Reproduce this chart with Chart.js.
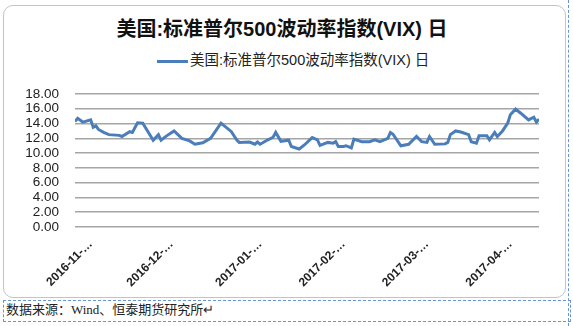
<!DOCTYPE html>
<html lang="zh">
<head>
<meta charset="UTF-8">
<title>VIX</title>
<script src="https://cdn.jsdelivr.net/npm/chart.js"></script>
<style>
body {
  margin: 0;
  width: 573px;
  height: 326px;
  background: #fff;
  position: relative;
  overflow: hidden;
  font-family: "Liberation Sans", "Noto Sans CJK SC", sans-serif;
}
.box {
  position: absolute;
  left: 3px;
  top: 5px;
  width: 561px;
  height: 291px;
  border: 1px solid #c4c4c4;
  border-radius: 10px;
  background: #fff;
}
.title {
  position: absolute;
  left: 0;
  top: 17px;
  width: 564px;
  line-height: 24px;
  text-align: center;
  font-weight: bold;
  font-size: 20px;
  color: #111;
}
.legend {
  position: absolute;
  left: 157px;
  top: 51px;
  line-height: 18px;
  font-size: 14.5px;
  color: #222;
  white-space: nowrap;
}
.legend span.swatch {
  display: inline-block;
  width: 31px;
  height: 3px;
  background: #4a7ebb;
  vertical-align: middle;
  margin-right: 2px;
}
#wrap {
  position: absolute;
  left: 0;
  top: 0;
  width: 573px;
  height: 300px;
}
.source {
  position: absolute;
  left: 3px;
  top: 300px;
  width: 564px;
  height: 20px;
  border: 1px dashed #6a94d4;
  font-family: "Liberation Serif", "Noto Sans CJK SC", serif;
  font-size: 13px;
  line-height: 18px;
  padding-left: 2px;
  color: #222;
}
.rightline {
  position: absolute;
  left: 568px;
  top: 0;
  height: 326px;
  border-left: 1px dashed #6a94d4;
}
</style>
</head>
<body>
<div class="box"></div>
<div class="rightline"></div>
<div class="title">美国:标准普尔500波动率指数(VIX) 日</div>
<div class="legend"><span class="swatch"></span>美国:标准普尔500波动率指数(VIX) 日</div>
<div id="wrap"><canvas id="c" width="573" height="300"></canvas></div>
<div class="source">数据来源：Wind、恒泰期货研究所↵</div>
<script>
const dates = [
  '2016-11-01', '2016-11-02', '2016-11-04', '2016-11-07', '2016-11-08', '2016-11-09', '2016-11-10',
  '2016-11-12', '2016-11-14', '2016-11-18', '2016-11-19', '2016-11-22', '2016-11-23', '2016-11-25',
  '2016-11-27', '2016-11-29', '2016-12-01', '2016-12-03', '2016-12-04', '2016-12-06', '2016-12-09',
  '2016-12-12', '2016-12-15', '2016-12-17', '2016-12-20', '2016-12-23', '2016-12-27', '2016-12-31',
  '2017-01-02', '2017-01-03', '2017-01-07', '2017-01-09', '2017-01-10', '2017-01-11', '2017-01-14',
  '2017-01-16', '2017-01-17', '2017-01-19', '2017-01-22', '2017-01-23', '2017-01-26', '2017-01-28',
  '2017-01-31', '2017-02-02', '2017-02-03', '2017-02-06', '2017-02-08', '2017-02-09', '2017-02-10',
  '2017-02-12', '2017-02-13', '2017-02-15', '2017-02-16', '2017-02-19', '2017-02-22', '2017-02-24',
  '2017-02-26', '2017-03-01', '2017-03-02', '2017-03-03', '2017-03-06', '2017-03-09', '2017-03-12',
  '2017-03-14', '2017-03-16', '2017-03-17', '2017-03-19', '2017-03-23', '2017-03-24', '2017-03-25',
  '2017-03-27', '2017-03-29', '2017-04-01', '2017-04-02', '2017-04-04', '2017-04-05', '2017-04-08',
  '2017-04-09', '2017-04-11', '2017-04-12', '2017-04-14', '2017-04-16', '2017-04-17', '2017-04-19',
  '2017-04-21', '2017-04-24', '2017-04-26', '2017-04-27', '2017-04-28'
];
const vix = [
  14.27, 14.7, 14.2, 14.5, 13.5, 13.7, 13.2,
  12.8, 12.5, 12.4, 12.25, 12.9, 12.8, 14.1,
  14.05, 12.9, 11.75, 12.5, 11.75, 12.3, 13.0,
  12.0, 11.65, 11.2, 11.4, 12.0, 14.05, 12.9,
  11.8, 11.45, 11.5, 11.2, 11.5, 11.2, 11.8,
  12.15, 12.8, 11.6, 11.75, 10.9, 10.55, 11.1,
  12.1, 11.8, 11.05, 11.45, 11.35, 11.55, 10.9,
  10.9, 11.0, 10.7, 11.9, 11.55, 11.55, 11.8,
  11.55, 12.0, 12.8, 12.55, 11.0, 11.2, 12.25,
  11.55, 11.45, 12.25, 11.2, 11.25, 11.45, 12.5,
  13.0, 12.85, 12.5, 11.55, 11.35, 12.35, 12.35,
  11.8, 12.8, 12.25, 13.0, 14.05, 15.2, 15.95,
  15.4, 14.5, 14.85, 14.2, 14.6
];
// dates that carry an axis label (shown truncated, as in the original)
const tickDates = ['2016-11-07', '2016-12-08', '2017-01-11', '2017-02-12', '2017-03-16', '2017-04-17'];
const yTicks = [0, 2, 4, 6, 8, 10, 12, 14, 16, 18];

const start = Date.UTC(2016, 10, 1);
function dayOf(s) {
  const p = s.split('-');
  return Math.round((Date.UTC(+p[0], +p[1] - 1, +p[2]) - start) / 86400000);
}
const points = dates.map((d, i) => ({ x: dayOf(d), y: vix[i] }));
const tickDays = tickDates.map(dayOf);

new Chart(document.getElementById('c').getContext('2d'), {
  type: 'line',
  data: {
    datasets: [{
      label: '美国:标准普尔500波动率指数(VIX) 日',
      data: points,
      borderColor: '#4a7ebb',
      borderWidth: 3,
      pointRadius: 0,
      tension: 0,
      fill: false
    }]
  },
  options: {
    responsive: false,
    animation: false,
    layout: { padding: { top: 94, right: 34, bottom: 0, left: 0 } },
    plugins: {
      legend: { display: false },
      title: { display: false },
      tooltip: { enabled: false }
    },
    scales: {
      x: {
        type: 'linear',
        min: 0,
        max: 178,
        grid: { display: false },
        border: { display: false },
        afterBuildTicks: (scale) => { scale.ticks = tickDays.map(v => ({ value: v })); },
        afterFit: (scale) => { scale.height = 73; },
        ticks: {
          autoSkip: false,
          minRotation: 45,
          maxRotation: 45,
          padding: 2,
          color: '#222',
          font: { family: 'Liberation Sans', size: 12, weight: 'bold' },
          callback: (v) => {
            const i = tickDays.indexOf(v);
            return i < 0 ? '' : tickDates[i].slice(0, 8) + '…';
          }
        }
      },
      y: {
        min: 0,
        max: 18,
        afterBuildTicks: (scale) => { scale.ticks = yTicks.map(v => ({ value: v })); },
        afterFit: (scale) => { scale.width = 75; },
        grid: { color: '#a6a6a6', lineWidth: 1.5, drawTicks: false },
        border: { display: false },
        ticks: {
          autoSkip: false,
          padding: 16,
          color: '#222',
          font: { family: 'Liberation Sans', size: 13.5 },
          callback: (v) => v.toFixed(2)
        }
      }
    }
  }
});
</script>
</body>
</html>
